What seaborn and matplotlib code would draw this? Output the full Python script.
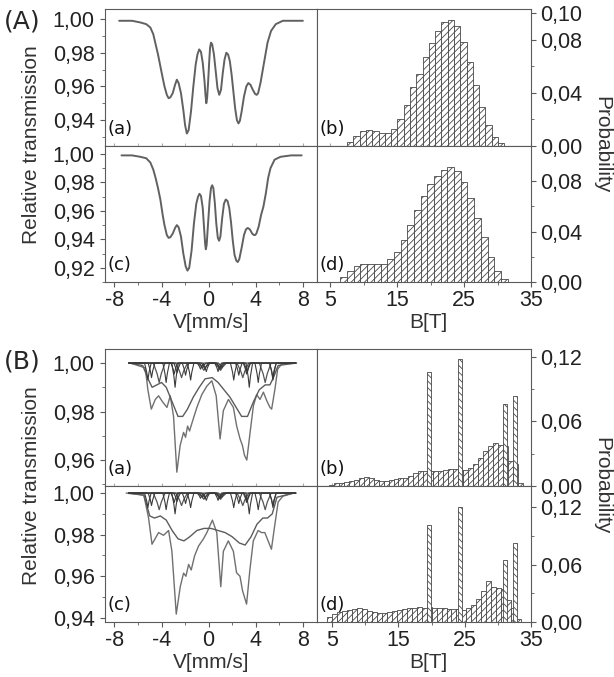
# Mossbauer spectra (left) and hyperfine field distributions (right), panels A and B
import numpy as np
import matplotlib
matplotlib.use("Agg")
import matplotlib.pyplot as plt
from matplotlib.ticker import FuncFormatter, MultipleLocator, FixedLocator
import seaborn as sns

sns.set_style("white")
plt.rcParams["font.family"] = ["Liberation Sans", "DejaVu Sans"]
plt.rcParams["hatch.linewidth"] = 0.6
plt.rcParams["axes.unicode_minus"] = False

# ---------------- panel A : spectra (velocity mm/s, relative transmission) ----------------
v_Aa = [-7.6, -6.5, -5.8, -5.3, -4.95, -4.7, -4.5, -4.3, -4.1, -3.9,
        -3.75, -3.55, -3.4, -3.25, -3.05, -2.85, -2.7, -2.55, -2.35, -2.15,
        -2.0, -1.85, -1.7, -1.5, -1.3, -1.1, -0.95, -0.8, -0.65, -0.5,
        -0.35, -0.27, -0.2, -0.13, -0.05, 0.05, 0.12, 0.2, 0.3, 0.45,
        0.6, 0.75, 0.9, 1.05, 1.2, 1.35, 1.5, 1.65, 1.8, 1.95,
        2.1, 2.25, 2.4, 2.53, 2.65, 2.8, 3.0, 3.2, 3.37, 3.55,
        3.75, 3.95, 4.08, 4.2, 4.4, 4.6, 4.8, 5.0, 5.3, 5.7,
        6.3, 7.0, 8.0]
t_Aa = [0.999, 0.999, 0.998, 0.997, 0.995, 0.991, 0.985, 0.979, 0.972, 0.965,
        0.960, 0.955, 0.953, 0.9535, 0.956, 0.961, 0.964, 0.962, 0.956, 0.946,
        0.937, 0.932, 0.934, 0.945, 0.960, 0.973, 0.979, 0.982, 0.9805, 0.974,
        0.963, 0.955, 0.950, 0.953, 0.962, 0.975, 0.983, 0.986, 0.985, 0.979,
        0.969, 0.959, 0.955, 0.958, 0.968, 0.976, 0.980, 0.979, 0.975, 0.967,
        0.957, 0.947, 0.940, 0.938, 0.9395, 0.945, 0.954, 0.960, 0.962, 0.961,
        0.958, 0.9555, 0.955, 0.956, 0.962, 0.970, 0.978, 0.986, 0.993, 0.997,
        0.999, 0.999, 0.999]

v_Ac = [-7.4, -6.5, -5.8, -5.3, -4.95, -4.7, -4.5, -4.3, -4.1, -3.9,
        -3.75, -3.55, -3.4, -3.25, -3.05, -2.85, -2.7, -2.55, -2.35, -2.15,
        -1.95, -1.8, -1.65, -1.45, -1.25, -1.05, -0.9, -0.78, -0.65, -0.5,
        -0.38, -0.3, -0.24, -0.17, -0.05, 0.08, 0.2, 0.3, 0.4, 0.52,
        0.65, 0.78, 0.89, 1.0, 1.15, 1.3, 1.45, 1.6, 1.75, 1.9,
        2.05, 2.2, 2.35, 2.47, 2.6, 2.8, 3.0, 3.17, 3.32, 3.5,
        3.7, 3.85, 3.94, 4.05, 4.25, 4.45, 4.65, 4.85, 5.05, 5.25,
        5.6, 6.1, 7.0, 7.9]
t_Ac = [0.999, 0.999, 0.998, 0.997, 0.994, 0.989, 0.983, 0.976, 0.968, 0.957,
        0.950, 0.943, 0.941, 0.9415, 0.944, 0.948, 0.950, 0.9485, 0.942, 0.930,
        0.921, 0.918, 0.920, 0.932, 0.951, 0.965, 0.970, 0.972, 0.9705, 0.962,
        0.947, 0.937, 0.933, 0.936, 0.951, 0.967, 0.976, 0.978, 0.976, 0.966,
        0.951, 0.941, 0.939, 0.942, 0.955, 0.965, 0.968, 0.967, 0.962, 0.952,
        0.939, 0.929, 0.925, 0.924, 0.926, 0.934, 0.943, 0.947, 0.948, 0.947,
        0.944, 0.943, 0.943, 0.944, 0.949, 0.957, 0.963, 0.972, 0.983, 0.990,
        0.996, 0.998, 0.999, 0.999]

# ---------------- panel A : field distributions ----------------
edges_Ab = list(np.linspace(7.5, 31.0, 26))
p_Ab = [0.003, 0.0075, 0.011, 0.012, 0.011, 0.010, 0.010, 0.013, 0.0205, 0.031, 0.044, 0.054, 0.067,
        0.0775, 0.0866, 0.093, 0.0946, 0.090, 0.078, 0.063, 0.046, 0.029, 0.016, 0.007, 0.002]
edges_Ad = list(np.linspace(6.5, 31.5, 26))
p_Ad = [0.0036, 0.0088, 0.013, 0.0145, 0.014, 0.014, 0.0145, 0.018, 0.024, 0.033, 0.045, 0.057, 0.068,
        0.0775, 0.0845, 0.089, 0.091, 0.088, 0.0795, 0.0666, 0.0507, 0.0356, 0.020, 0.0088, 0.0025]

# ---------------- panel B : spectra ----------------
v_Ba = [-6.65, -5.38, -5.16, -4.87, -4.53, -4.25, -3.91, -3.54, -3.26, -2.98, -2.7, -2.42, -2.13, -1.96, -1.79,
        -1.62, -1.37, -1.0, -0.58, -0.15, 0.27, 0.64, 0.97, 1.25, 1.68, 2.1, 2.38, 2.67, 2.87, 3.04,
        3.24, 3.52, 3.8, 4.08, 4.36, 4.65, 4.93, 5.21, 5.35, 5.63, 5.86, 6.2, 7.47]
t_Ba = [1.000, 0.998, 0.989, 0.981, 0.985, 0.9865, 0.984, 0.9817, 0.9865, 0.978, 0.955, 0.966, 0.9714, 0.9694, 0.974,
        0.972, 0.976, 0.9817, 0.987, 0.9905, 0.9927, 0.9865, 0.9687, 0.9804, 0.985, 0.9817, 0.974, 0.9687, 0.966, 0.962,
        0.960, 0.9714, 0.9824, 0.987, 0.985, 0.988, 0.9845, 0.9817, 0.981, 0.9893, 0.9975, 0.9996, 1.000]
v_Ba_broad = [-6.7, -5.6, -5.1, -4.8, -4.4, -4.0, -3.6, -3.1, -2.6, -2.2, -1.8, -1.3, -0.8, -0.3, 0.3,
              0.8, 1.3, 1.8, 2.3, 2.8, 3.3, 3.8, 4.3, 4.8, 5.2, 5.5, 5.9, 7.4]
t_Ba_broad = [1.000, 0.999, 0.993, 0.990, 0.991, 0.992, 0.990, 0.984, 0.978, 0.978, 0.981, 0.986, 0.990, 0.9935, 0.994,
              0.992, 0.989, 0.986, 0.982, 0.978, 0.978, 0.984, 0.989, 0.991, 0.991, 0.994, 0.999, 1.000]

v_Bc = [-7.0, -5.5, -5.1, -4.81, -4.25, -3.83, -3.4, -3.12, -2.75, -2.41, -2.13, -1.93, -1.7, -1.48, -1.2,
        -0.86, -0.44, -0.15, 0.32, 0.69, 1.03, 1.25, 1.67, 2.1, 2.37, 2.66, 2.88, 3.22, 3.5, 3.79,
        4.2, 4.49, 4.77, 5.05, 5.33, 5.6, 5.9, 6.3, 7.2]
t_Bc = [1.000, 0.999, 0.988, 0.9754, 0.981, 0.9797, 0.982, 0.972, 0.9418, 0.955, 0.9615, 0.960, 0.9657, 0.963, 0.9697,
        0.9745, 0.978, 0.981, 0.987, 0.981, 0.955, 0.972, 0.977, 0.972, 0.9617, 0.960, 0.953, 0.9466, 0.963, 0.977,
        0.982, 0.981, 0.981, 0.977, 0.973, 0.984, 0.9957, 0.9985, 1.000]
v_Bc_broad = [-6.8, -5.5, -5.0, -4.6, -4.1, -3.6, -3.1, -2.6, -2.1, -1.6, -1.0, -0.4, 0.2, 0.8, 1.4,
              2.0, 2.6, 3.1, 3.6, 4.1, 4.6, 5.0, 5.4, 5.8, 7.2]
t_Bc_broad = [1.000, 0.999, 0.989, 0.988, 0.989, 0.987, 0.982, 0.978, 0.977, 0.979, 0.982, 0.983, 0.983, 0.982, 0.981,
              0.979, 0.976, 0.975, 0.979, 0.985, 0.988, 0.988, 0.990, 0.998, 1.000]

# narrow sextets in B: line positions (mm/s) and dip depths
sext_pos = [[-5.16, -2.92, -0.69, 0.99, 3.22, 5.46],
            [-4.85, -2.68, -0.52, 1.12, 3.28, 5.45],
            [-3.61, -1.96, -0.32, 0.92, 2.56, 4.21],
            [-2.85, -1.53, -0.20, 0.80, 2.13, 3.45]]
sext_depth = [[0.007, 0.0045, 0.0025, 0.0025, 0.0045, 0.007],
              [0.006, 0.004, 0.002, 0.002, 0.004, 0.006],
              [0.008, 0.005, 0.0025, 0.0025, 0.005, 0.008],
              [0.010, 0.007, 0.0035, 0.0035, 0.007, 0.010]]
wide_pos = [-4.2, -2.3, -0.41, 1.01, 2.9, 4.8]
wide_depth = [0.008, 0.006, 0.003, 0.003, 0.006, 0.008]

# ---------------- panel B : field distributions ----------------
edges_Bb = list(4.5 + 0.75 * np.arange(40))
p_Bb = [0.001, 0.0025, 0.003, 0.004, 0.005, 0.0057, 0.0073, 0.008, 0.0073, 0.0054,
        0.0044, 0.0044, 0.0054, 0.0067, 0.0073, 0.0073, 0.009, 0.012, 0.0136, 0.0136,
        0.0136, 0.0136, 0.014, 0.015, 0.016, 0.016, 0.015, 0.015, 0.0168, 0.0206,
        0.026, 0.0327, 0.0374, 0.0396, 0.038, 0.0374, 0.023, 0.020, 0.0025]
edges_Bd = list(4.25 + 0.75 * np.arange(40))
p_Bd = [0.0047, 0.0083, 0.010, 0.011, 0.0127, 0.0138, 0.0145, 0.0138, 0.012, 0.010,
        0.009, 0.009, 0.010, 0.012, 0.013, 0.0138, 0.0145, 0.015, 0.0156, 0.015,
        0.0152, 0.0148, 0.0145, 0.0145, 0.0138, 0.0138, 0.014, 0.013, 0.0145, 0.018,
        0.024, 0.032, 0.043, 0.037, 0.036, 0.034, 0.023, 0.015, 0.003]
tall_B = [19.6, 24.3, 31.1, 32.6]
tall_Bb = [0.106, 0.118, 0.076, 0.084]
tall_Bd = [0.101, 0.120, 0.065, 0.083]

LINE = "#616161"
DARK = "#3a3a3a"
SPINE = "#5a5a5a"
TICK_FS = 15.5


def comma(fmt):
    return FuncFormatter(lambda x, pos: fmt.format(x).replace(".", ","))


def dips(pos, depth, w, v0=-6.8, v1=7.4):
    # polyline through the read dips: shoulder, half depth, bottom
    xs, ys = [v0], [1.0]
    for p, d in zip(pos, depth):
        xs += [p - w, p - 0.35 * w, p, p + 0.35 * w, p + w]
        ys += [1.0, 1.0 - 0.55 * d, 1.0 - d, 1.0 - 0.55 * d, 1.0]
    xs.append(v1)
    ys.append(1.0)
    return xs, ys


def rect(x0, x1, top, bot):
    return [x0 / 614, 1 - bot / 677, (x1 - x0) / 614, (bot - top) / 677]


def style(ax):
    for s in ax.spines.values():
        s.set_color(SPINE)
        s.set_linewidth(0.8)
    ax.set_xlabel("")
    ax.set_ylabel("")


def bottom_ticks(ax, bottom_row):
    if bottom_row:
        ax.tick_params(axis="x", which="both", bottom=True, direction="out", colors=SPINE,
                       labelcolor="#222", labelsize=TICK_FS, pad=2)
        ax.tick_params(axis="x", which="major", length=3.5, width=0.8)
        ax.tick_params(axis="x", which="minor", length=2, width=0.6)
    else:
        ax.tick_params(axis="x", which="both", bottom=True, direction="in", length=2,
                       colors="#aaaaaa", labelbottom=False)


def spec_axes(ax, ylim, yticks, bottom_row):
    style(ax)
    ax.set_xlim(-8.8, 9.2)
    ax.set_ylim(*ylim)
    ax.yaxis.set_major_locator(FixedLocator(yticks))
    ax.yaxis.set_minor_locator(MultipleLocator(0.01))
    ax.yaxis.set_major_formatter(comma("{:.2f}"))
    ax.xaxis.set_major_locator(FixedLocator([-8, -4, 0, 4, 8]))
    ax.xaxis.set_minor_locator(MultipleLocator(2))
    ax.tick_params(axis="y", which="both", left=True, direction="out", colors=SPINE,
                   labelcolor="#222", labelsize=TICK_FS, pad=4)
    ax.tick_params(axis="y", which="major", length=3.5, width=0.8)
    ax.tick_params(axis="y", which="minor", length=2, width=0.6)
    bottom_ticks(ax, bottom_row)


def hist_axes(ax, xlim, ylim, yticks, yminor, bottom_row):
    style(ax)
    ax.set_xlim(*xlim)
    ax.set_ylim(*ylim)
    ax.yaxis.tick_right()
    ax.yaxis.set_major_locator(FixedLocator(yticks))
    ax.yaxis.set_minor_locator(FixedLocator(yminor))
    ax.yaxis.set_major_formatter(comma("{:.2f}"))
    ax.xaxis.set_major_locator(FixedLocator([5, 15, 25, 35]))
    ax.xaxis.set_minor_locator(MultipleLocator(5))
    ax.tick_params(axis="y", which="both", right=True, left=False, direction="out", colors=SPINE,
                   labelcolor="#222", labelsize=TICK_FS, pad=3)
    ax.tick_params(axis="y", which="major", length=3.5, width=0.8)
    ax.tick_params(axis="y", which="minor", length=2, width=0.6)
    bottom_ticks(ax, bottom_row)


def hist(ax, edges, probs, hatch):
    centers = (np.asarray(edges[:-1]) + np.asarray(edges[1:])) / 2
    sns.histplot(x=centers, weights=probs, bins=edges, ax=ax, color="white", edgecolor="#474747",
                 linewidth=0.6, hatch=hatch, alpha=1, stat="count")


def tall_hist(ax, centers, probs, bw=0.6):
    edges = [e for c in centers for e in (c - bw / 2, c + bw / 2)]
    sns.histplot(x=centers, weights=probs, bins=edges, ax=ax, color="white", edgecolor="#474747",
                 linewidth=0.6, hatch="\\\\\\\\\\", alpha=1, stat="count")


def panel_tag(ax, s):
    ax.text(0.012, 0.06, s, transform=ax.transAxes, fontsize=13, family="DejaVu Sans",
            color="#111", ha="left", va="bottom")


fig = plt.figure(figsize=(6.14, 6.77), dpi=100)

rows = [(9, 146), (146, 282), (349, 486), (486, 622)]
ax_Aa = fig.add_axes(rect(105, 317, *rows[0]))
ax_Ab = fig.add_axes(rect(317, 531, *rows[0]))
ax_Ac = fig.add_axes(rect(105, 317, *rows[1]))
ax_Ad = fig.add_axes(rect(317, 531, *rows[1]))
ax_Ba = fig.add_axes(rect(105, 317, *rows[2]))
ax_Bb = fig.add_axes(rect(317, 531, *rows[2]))
ax_Bc = fig.add_axes(rect(105, 317, *rows[3]))
ax_Bd = fig.add_axes(rect(317, 531, *rows[3]))

# A spectra
for ax, v, t in [(ax_Aa, v_Aa, t_Aa), (ax_Ac, v_Ac, t_Ac)]:
    sns.lineplot(x=v, y=t, ax=ax, color=LINE, lw=1.4, sort=False, estimator=None)
spec_axes(ax_Aa, (0.9246, 1.006), [0.94, 0.96, 0.98, 1.00], False)
spec_axes(ax_Ac, (0.910, 1.0056), [0.92, 0.94, 0.96, 0.98, 1.00], True)

# B spectra: total fit, broad component, narrow sextets
for ax, v, t, vb, tb in [(ax_Ba, v_Ba, t_Ba, v_Ba_broad, t_Ba_broad),
                         (ax_Bc, v_Bc, t_Bc, v_Bc_broad, t_Bc_broad)]:
    sns.lineplot(x=v, y=t, ax=ax, color="#707070", lw=1.0, sort=False, estimator=None)
    sns.lineplot(x=vb, y=tb, ax=ax, color="#5c5c5c", lw=1.0, sort=False, estimator=None)
    xs, ys = dips(wide_pos, wide_depth, 0.5)
    sns.lineplot(x=xs, y=ys, ax=ax, color="#555555", lw=0.9, sort=False, estimator=None)
    for pos, dep in zip(sext_pos, sext_depth):
        xs, ys = dips(pos, dep, 0.28)
        sns.lineplot(x=xs, y=ys, ax=ax, color=DARK, lw=0.8, sort=False, estimator=None)
spec_axes(ax_Ba, (0.9493, 1.0058), [0.96, 0.98, 1.00], False)
spec_axes(ax_Bc, (0.938, 1.0034), [0.94, 0.96, 0.98, 1.00], True)

# A histograms
hist(ax_Ab, edges_Ab, p_Ab, "/////")
hist(ax_Ad, edges_Ad, p_Ad, "/////")
hist_axes(ax_Ab, (3, 35), (0, 0.103), [0.0, 0.04, 0.08, 0.10], [0.02, 0.06], False)
hist_axes(ax_Ad, (3, 35), (0, 0.108), [0.0, 0.04, 0.08], [0.02, 0.06], True)

# B histograms
hist(ax_Bb, edges_Bb, p_Bb, "/////")
tall_hist(ax_Bb, tall_B, tall_Bb)
hist(ax_Bd, edges_Bd, p_Bd, "/////")
tall_hist(ax_Bd, tall_B, tall_Bd)
hist_axes(ax_Bb, (2.7, 35), (0, 0.1274), [0.0, 0.06, 0.12], [0.03, 0.09], False)
hist_axes(ax_Bd, (2.7, 35), (0, 0.142), [0.0, 0.06, 0.12], [0.03, 0.09], True)

for ax, s in [(ax_Aa, "(a)"), (ax_Ab, "(b)"), (ax_Ac, "(c)"), (ax_Ad, "(d)"),
              (ax_Ba, "(a)"), (ax_Bb, "(b)"), (ax_Bc, "(c)"), (ax_Bd, "(d)")]:
    panel_tag(ax, s)

# figure level labels
fig.text(4 / 614, 1 - 22 / 677, "(A)", fontsize=18, family="DejaVu Sans", va="center", ha="left")
fig.text(4 / 614, 1 - 361 / 677, "(B)", fontsize=18, family="DejaVu Sans", va="center", ha="left")
for yc in (145, 486):
    fig.text(32 / 614, 1 - yc / 677, "Relative transmission", rotation=90, fontsize=15,
             color="#333", va="center", ha="center")
    fig.text(602 / 614, 1 - yc / 677, "Probability", rotation=270, fontsize=15,
             color="#333", va="center", ha="center")
for yc in (322, 663):
    fig.text(211 / 614, 1 - yc / 677, "V[mm/s]", fontsize=15, color="#333", va="center", ha="center")
    fig.text(428 / 614, 1 - yc / 677, "B[T]", fontsize=15, color="#333", va="center", ha="center")

fig.savefig("out.png", dpi=100)
